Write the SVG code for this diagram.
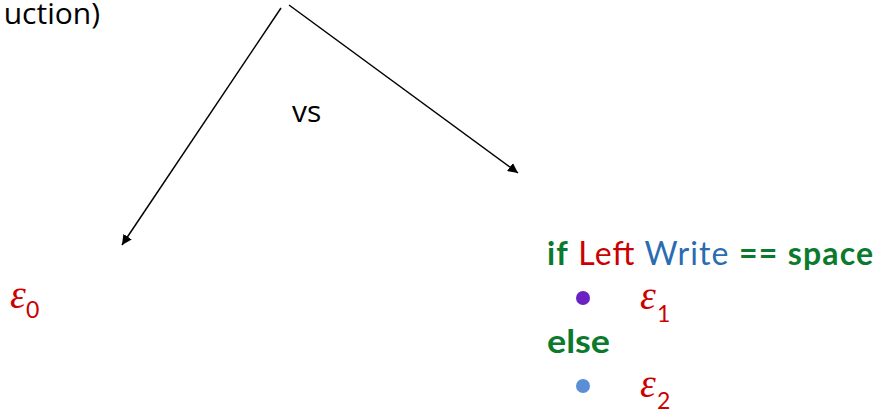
<svg xmlns="http://www.w3.org/2000/svg" width="876" height="414" viewBox="0 0 876 414">
<style>
.t{font-family:"Open Sans","Noto Sans",sans-serif;font-size:30px;fill:#000}
.c{font-family:"Lato","Noto Sans",sans-serif;font-size:32px}
.g{fill:#0b7a2c;font-weight:bold}
.r{fill:#cc0000}
.b{fill:#2a6cb0}
.e{font-family:"Liberation Serif",serif;font-style:italic;font-size:40px;fill:#cc0000}
.s{font-family:"Lato","Noto Sans",sans-serif;font-size:23px;fill:#cc0000}
.ln{stroke:#000;stroke-width:1.5;fill:none;marker-end:url(#ah)}
</style>
<defs>
<marker id="ah" viewBox="0 0 10 10" refX="10" refY="5" markerWidth="10" markerHeight="10" markerUnits="userSpaceOnUse" orient="auto">
<path d="M0,0 L10,5 L0,10 z" fill="#000"/>
</marker>
</defs>
<g id="top"><text class="t" x="100" y="24" text-anchor="end">uction)</text></g>
<g id="connectors">
<line class="ln" x1="281" y1="8" x2="122" y2="245"/>
<line class="ln" x1="289" y1="5" x2="518" y2="173"/>
</g>
<g id="vs"><text class="t" x="292" y="122">vs</text></g>
<g id="left"><text class="e" x="10" y="308">ε</text><text class="s" x="26" y="318">0</text></g>
<g id="right">
<text class="c" x="547" y="265" textLength="326" lengthAdjust="spacing"><tspan class="g">if</tspan> <tspan class="r">Left</tspan> <tspan class="b">Write</tspan> <tspan class="g">==</tspan> <tspan class="g">space</tspan></text>
<circle cx="583" cy="298" r="7" fill="#6a22c2"/>
<text class="e" x="640" y="309">ε</text><text class="s" x="657" y="322">1</text>
<text class="c g" x="547" y="353" textLength="63" lengthAdjust="spacingAndGlyphs">else</text>
<circle cx="583" cy="386" r="7" fill="#5a8fd8"/>
<text class="e" x="640" y="397">ε</text><text class="s" x="657" y="409">2</text>
</g>
</svg>
